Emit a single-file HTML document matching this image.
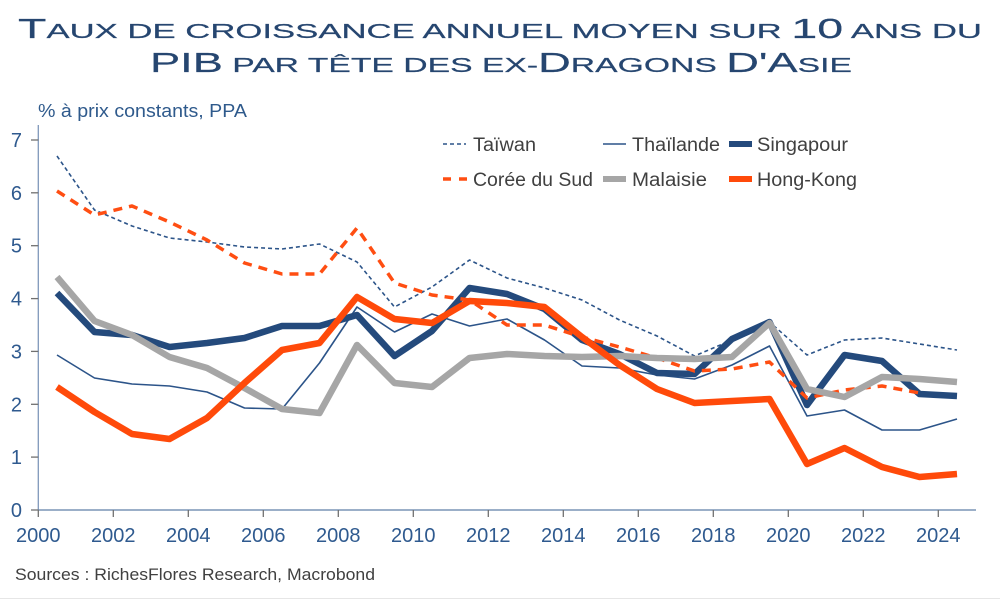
<!DOCTYPE html>
<html><head><meta charset="utf-8"><style>
html,body{margin:0;padding:0;background:#fff;}
svg{display:block;}
</style></head><body>
<svg width="1000" height="601" viewBox="0 0 1000 601" xmlns="http://www.w3.org/2000/svg" font-family="'Liberation Sans', sans-serif">
<rect width="1000" height="601" fill="#fff"/>
<line x1="0" y1="598.5" x2="1000" y2="598.5" stroke="#e6e6e6" stroke-width="1"/>
<!-- Title -->
<text x="18" y="38" font-size="20.5" fill="#264670" stroke="#264670" stroke-width="0.2" textLength="964" lengthAdjust="spacingAndGlyphs"><tspan font-size="27.5">T</tspan>AUX DE CROISSANCE ANNUEL MOYEN SUR <tspan font-size="27.5">10</tspan> ANS DU</text>
<text x="150" y="72" font-size="20.5" fill="#264670" stroke="#264670" stroke-width="0.2" textLength="702" lengthAdjust="spacingAndGlyphs"><tspan font-size="27.5">PIB</tspan> PAR TÊTE DES EX-<tspan font-size="27.5">D</tspan>RAGONS <tspan font-size="27.5">D'A</tspan>SIE</text>
<text x="38" y="117" font-size="18" fill="#2f5a8c" textLength="209" lengthAdjust="spacingAndGlyphs">% à prix constants, PPA</text>

<!-- Axes -->
<line x1="38.3" y1="125" x2="38.3" y2="510" stroke="#7f98ba" stroke-width="1.3"/>
<line x1="38.3" y1="510" x2="976" y2="510" stroke="#5f7fa8" stroke-width="1.3"/>
<g stroke="#707070" stroke-width="1.3">
<line x1="31" y1="510" x2="38.3" y2="510"/>
<line x1="31" y1="457.1" x2="38.3" y2="457.1"/>
<line x1="31" y1="404.3" x2="38.3" y2="404.3"/>
<line x1="31" y1="351.4" x2="38.3" y2="351.4"/>
<line x1="31" y1="298.6" x2="38.3" y2="298.6"/>
<line x1="31" y1="245.7" x2="38.3" y2="245.7"/>
<line x1="31" y1="192.8" x2="38.3" y2="192.8"/>
<line x1="31" y1="140" x2="38.3" y2="140"/>
<line x1="38.3" y1="510" x2="38.3" y2="517"/>
<line x1="113.3" y1="510" x2="113.3" y2="517"/>
<line x1="188.3" y1="510" x2="188.3" y2="517"/>
<line x1="263.3" y1="510" x2="263.3" y2="517"/>
<line x1="338.3" y1="510" x2="338.3" y2="517"/>
<line x1="413.3" y1="510" x2="413.3" y2="517"/>
<line x1="488.3" y1="510" x2="488.3" y2="517"/>
<line x1="563.3" y1="510" x2="563.3" y2="517"/>
<line x1="638.3" y1="510" x2="638.3" y2="517"/>
<line x1="713.3" y1="510" x2="713.3" y2="517"/>
<line x1="788.3" y1="510" x2="788.3" y2="517"/>
<line x1="863.3" y1="510" x2="863.3" y2="517"/>
<line x1="938.3" y1="510" x2="938.3" y2="517"/>
</g>
<g font-size="20" fill="#2f5a8f" text-anchor="end">
<text x="22" y="517">0</text>
<text x="22" y="464.1">1</text>
<text x="22" y="411.3">2</text>
<text x="22" y="358.4">3</text>
<text x="22" y="305.6">4</text>
<text x="22" y="252.7">5</text>
<text x="22" y="199.8">6</text>
<text x="22" y="147">7</text>
</g>
<g font-size="20" fill="#2f5a8f" text-anchor="middle">
<text x="38.3" y="542">2000</text>
<text x="113.3" y="542">2002</text>
<text x="188.3" y="542">2004</text>
<text x="263.3" y="542">2006</text>
<text x="338.3" y="542">2008</text>
<text x="413.3" y="542">2010</text>
<text x="488.3" y="542">2012</text>
<text x="563.3" y="542">2014</text>
<text x="638.3" y="542">2016</text>
<text x="713.3" y="542">2018</text>
<text x="788.3" y="542">2020</text>
<text x="863.3" y="542">2022</text>
<text x="938.3" y="542">2024</text>
</g>

<!-- Series -->
<g fill="none" stroke-linejoin="round">
<polyline stroke="#2c5489" stroke-width="1.6" stroke-dasharray="4 3" points="57,156 94.5,210 132,226 169.5,238 207,242 244.5,247 282,249 319.5,244 357,262 394.5,307 432,287 469.5,260 507,278 544.5,288 582,300 619.5,320 657,336 694.5,356 732,340 769.5,322 807,355 844.5,340 882,338 919.5,344 957,350"/>
<polyline stroke="#2c5489" stroke-width="1.6" points="57,355 94.5,378 132,384 169.5,386 207,392 244.5,408 282,409 319.5,363 357,307 394.5,332 432,314 469.5,326 507,319 544.5,340 582,366 619.5,368 657,375 694.5,379 732,365 769.5,346 807,416 844.5,410 882,430 919.5,430 957,419"/>
<polyline stroke="#244a7c" stroke-width="6.5" points="57,293 94.5,332 132,335 169.5,347 207,343 244.5,338 282,326 319.5,326 357,315 394.5,356 432,331 469.5,288 507,294 544.5,309 582,340 619.5,354 657,373 694.5,374 732,339 769.5,322 807,405 844.5,355 882,361 919.5,394 957,396"/>
<polyline stroke="#ff4e12" stroke-width="3.5" stroke-dasharray="9 7" points="57,191 94.5,215 132,206 169.5,222 207,240 244.5,263 282,274 319.5,274 357,228 394.5,283 432,295 469.5,300 507,325 544.5,325 582,337 619.5,347 657,358 694.5,371 732,369 769.5,362 807,398 844.5,390 882,386 919.5,393"/>
<polyline stroke="#a6a6a6" stroke-width="6.5" points="57,277 94.5,321 132,335 169.5,357 207,368 244.5,388 282,409 319.5,413 357,345 394.5,383 432,387 469.5,358 507,354 544.5,356 582,357 619.5,356 657,358 694.5,359 732,357 769.5,323 807,389 844.5,397 882,377 919.5,379 957,382"/>
<polyline stroke="#ff4a0a" stroke-width="6.5" points="57,387 94.5,412 132,434 169.5,439 207,418 244.5,383 282,350 319.5,343 357,297 394.5,319 432,323 469.5,301 507,303 544.5,307 582,337 619.5,365 657,389 694.5,403 732,401 769.5,399 807,464 844.5,448 882,467 919.5,477 957,474"/>
</g>

<!-- Legend -->
<g fill="none">
<line x1="443" y1="144" x2="466" y2="144" stroke="#2c5489" stroke-width="1.6" stroke-dasharray="4 3"/>
<line x1="603" y1="144" x2="626" y2="144" stroke="#2c5489" stroke-width="1.6"/>
<line x1="729" y1="144" x2="752" y2="144" stroke="#244a7c" stroke-width="6"/>
<line x1="443" y1="179" x2="468" y2="179" stroke="#ff4e12" stroke-width="3.5" stroke-dasharray="8 8"/>
<line x1="603" y1="179" x2="626" y2="179" stroke="#a6a6a6" stroke-width="6"/>
<line x1="729" y1="179" x2="752" y2="179" stroke="#ff4a0a" stroke-width="6"/>
</g>
<g font-size="19" fill="#404040">
<text x="473" y="151" textLength="63" lengthAdjust="spacingAndGlyphs">Taïwan</text>
<text x="632" y="151" textLength="88" lengthAdjust="spacingAndGlyphs">Thaïlande</text>
<text x="757" y="151" textLength="91" lengthAdjust="spacingAndGlyphs">Singapour</text>
<text x="473" y="186" textLength="120" lengthAdjust="spacingAndGlyphs">Corée du Sud</text>
<text x="632" y="186" textLength="75" lengthAdjust="spacingAndGlyphs">Malaisie</text>
<text x="757" y="186" textLength="100" lengthAdjust="spacingAndGlyphs">Hong-Kong</text>
</g>

<text x="15" y="580" font-size="17" fill="#404040" textLength="360" lengthAdjust="spacingAndGlyphs">Sources : RichesFlores Research, Macrobond</text>
</svg>
</body></html>
